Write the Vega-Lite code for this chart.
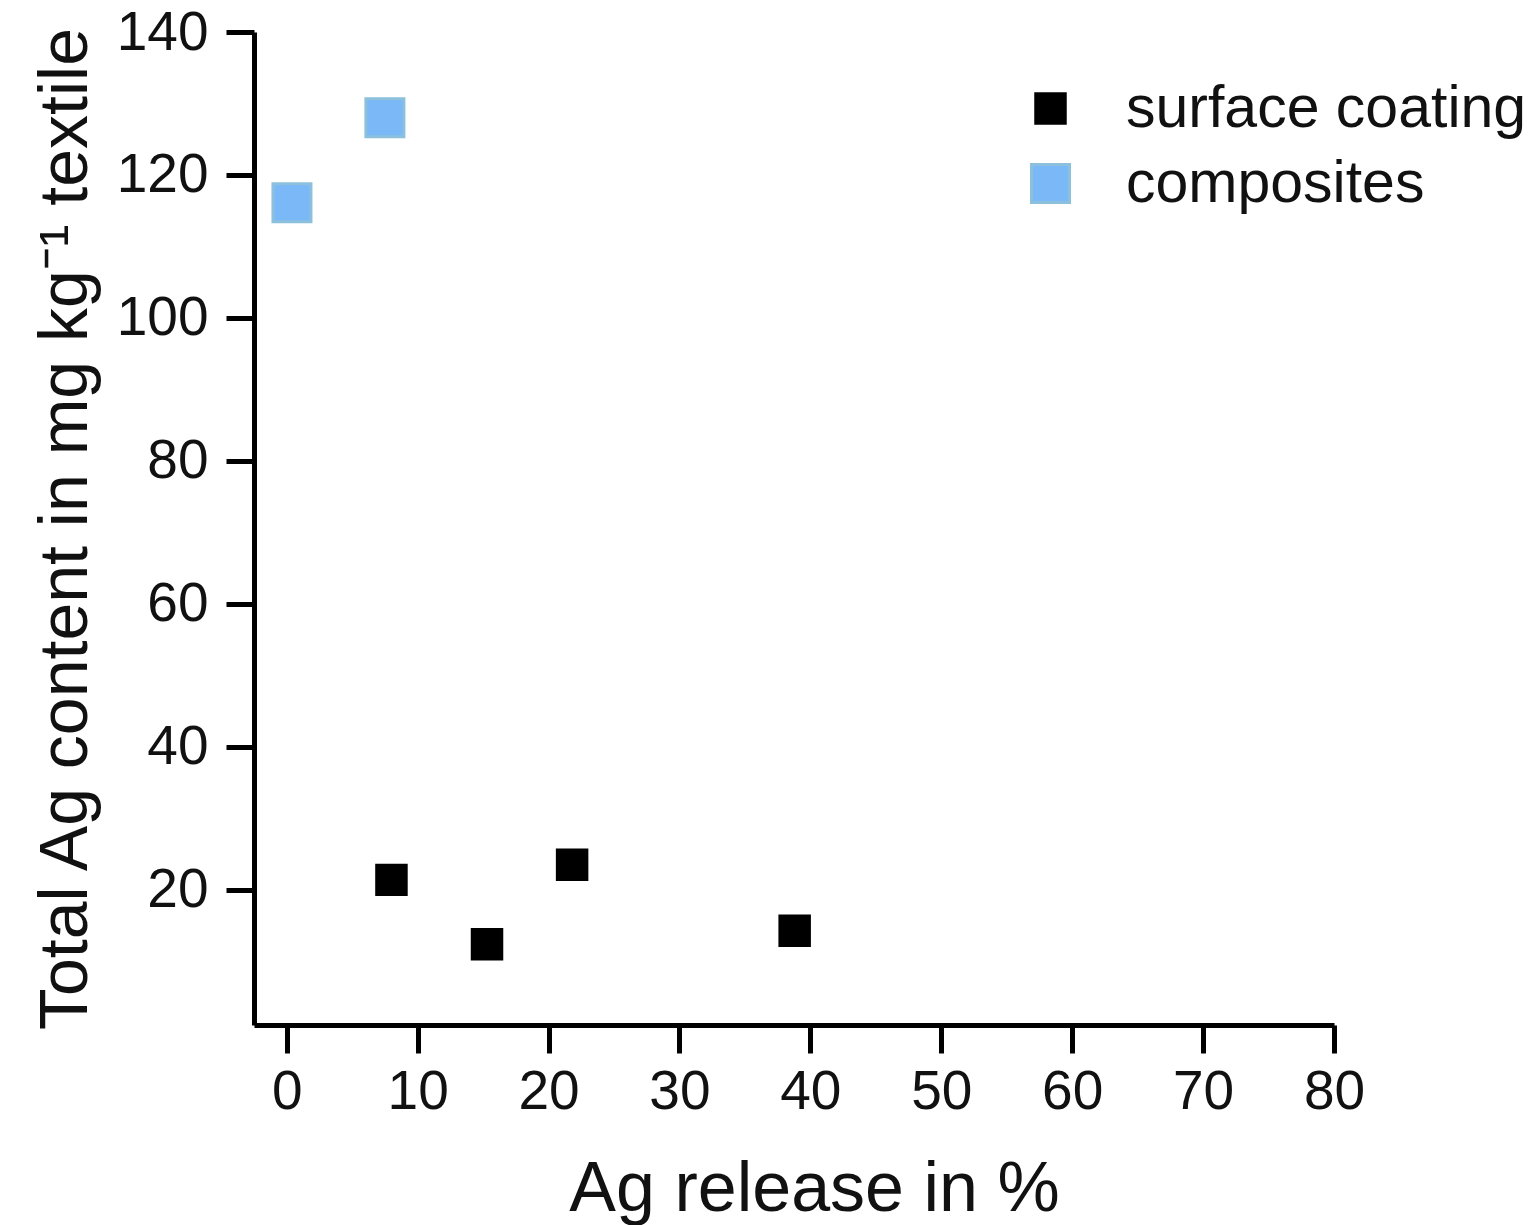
{
  "$schema": "https://vega.github.io/schema/vega-lite/v6.json",
  "autosize": "none",
  "width": 1080,
  "height": 993,
  "padding": {"left": 254, "top": 32, "right": 199, "bottom": 200},
  "background": "white",
  "config": {
    "view": {"stroke": null},
    "font": "Liberation Sans",
    "axis": {
      "domainColor": "#000000",
      "domainWidth": 5,
      "tickColor": "#000000",
      "tickWidth": 5,
      "tickSize": 28,
      "grid": false,
      "labelFlush": false,
      "labelOverlap": false,
      "labelFont": "Liberation Sans",
      "labelFontSize": 55,
      "labelColor": "#111111",
      "titleFont": "Liberation Sans",
      "titleFontSize": 70,
      "titleFontWeight": "normal",
      "titleColor": "#111111"
    },
    "legend": {
      "labelFont": "Liberation Sans",
      "labelFontSize": 59,
      "labelColor": "#111111",
      "labelLimit": 0,
      "symbolStrokeWidth": 3,
      "symbolOpacity": 1,
      "rowPadding": 15,
      "labelOffset": 46
    }
  },
  "data": {
    "values": [
      {"release": 0.4, "content": 116.1, "type": "composites"},
      {"release": 7.5, "content": 128.0, "type": "composites"},
      {"release": 8.0, "content": 21.4, "type": "surface coating"},
      {"release": 15.3, "content": 12.4, "type": "surface coating"},
      {"release": 21.8, "content": 23.5, "type": "surface coating"},
      {"release": 38.8, "content": 14.3, "type": "surface coating"}
    ]
  },
  "mark": {"type": "square", "filled": true, "opacity": 1, "strokeWidth": 3},
  "encoding": {
    "x": {
      "field": "release",
      "type": "quantitative",
      "scale": {"domain": [-2.5, 80], "nice": false, "zero": false},
      "axis": {"values": [0, 10, 20, 30, 40, 50, 60, 70, 80], "title": "Ag release in %", "labelPadding": 12, "titlePadding": 36, "titleX": 560}
    },
    "y": {
      "field": "content",
      "type": "quantitative",
      "scale": {"domain": [1.1, 140], "nice": false, "zero": false},
      "axis": {"values": [20, 40, 60, 80, 100, 120, 140], "title": "Total Ag content in mg kg⁻¹ textile", "labelPadding": 18, "titlePadding": 16, "titleFontSize": 68}
    },
    "color": {
      "field": "type",
      "type": "nominal",
      "scale": {"domain": ["surface coating", "composites"], "range": ["#000000", "#7ab8f8"]},
      "legend": {"title": null, "orient": "none", "legendX": 767, "legendY": 47}
    },
    "stroke": {
      "field": "type",
      "type": "nominal",
      "scale": {"domain": ["surface coating", "composites"], "range": ["#000000", "#8cc0dc"]},
      "legend": {"title": null, "orient": "none", "legendX": 767, "legendY": 47}
    },
    "size": {
      "field": "type",
      "type": "nominal",
      "scale": {"domain": ["surface coating", "composites"], "range": [870, 1444]},
      "legend": {"title": null, "orient": "none", "legendX": 767, "legendY": 47}
    }
  }
}
